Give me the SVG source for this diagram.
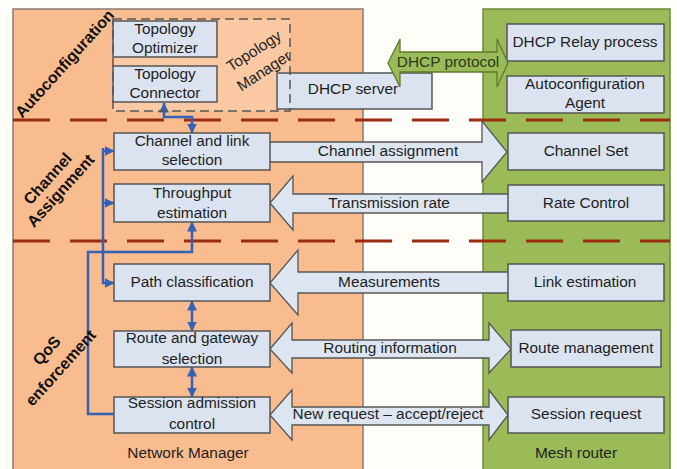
<svg xmlns="http://www.w3.org/2000/svg" width="677" height="469" viewBox="0 0 677 469">
  <defs>
    <marker id="tip" markerUnits="userSpaceOnUse" markerWidth="10" markerHeight="10" refX="9.5" refY="5" orient="auto-start-reverse">
      <path d="M0,0 L10,5 L0,10 z" fill="#3462b6"/>
    </marker>
    <style>
      .box { fill: #dce3f0; stroke: #555; stroke-width: 1.5; }
      .blk { fill: #dde5f1; stroke: #555; stroke-width: 1.3; stroke-linejoin: miter; }
      .t { font-family: "Liberation Sans", Arial, sans-serif; font-size: 15.4px; fill: #1e1e1e; text-anchor: middle; }
      .lab { font-family: "Liberation Sans", Arial, sans-serif; font-size: 16px; font-weight: bold; fill: #111; text-anchor: middle; }
      .wire { fill: none; stroke: #3462b6; stroke-width: 2.5; }
      .sep { stroke: #9c2c10; stroke-width: 3; stroke-dasharray: 37 20; }
    </style>
  </defs>

  <!-- page -->
  <rect x="0" y="0" width="677" height="469" fill="#fefdf8"/>

  <!-- the two sides: network manager (left) and mesh router (right) -->
  <rect id="network-manager-panel" x="13" y="9" width="350" height="470" fill="#f9bc8e" stroke="#8a7a6e" stroke-width="1.5"/>
  <rect id="mesh-router-panel" x="483" y="9" width="187" height="470" fill="#9bbb59" stroke="#6e8a3a" stroke-width="1.5"/>

  <!-- topology manager area -->
  <rect x="113" y="19" width="177" height="92" fill="#fbd2b2" opacity="0.6"/>

  <!-- layer separators -->
  <line class="sep" x1="13" y1="120" x2="670" y2="120"/>
  <line class="sep" x1="13" y1="241" x2="670" y2="241"/>

  <!-- block arrows between the two sides -->
  <g id="connectors">
    <g id="channel-assignment">
      <polygon class="blk" points="265,142 482,142 482,121 507,152 482,182 482,162 265,162"/>
      <text class="t" x="388" y="156">Channel assignment</text>
    </g>
    <g id="transmission-rate">
      <polygon class="blk" points="512,194 293,194 293,176 270,203 293,230 293,213 512,213"/>
      <text class="t" x="389" y="208">Transmission rate</text>
    </g>
    <g id="measurements">
      <polygon class="blk" points="512,272 298,272 298,250 270,283 298,315 298,293 512,293"/>
      <text class="t" x="389" y="287">Measurements</text>
    </g>
    <g id="routing-information">
      <polygon class="blk" points="270,349 292,323 292,340 489,340 489,323 511,349 489,373 489,358 292,358 292,373"/>
      <text class="t" x="390" y="353">Routing information</text>
    </g>
    <g id="new-request">
      <polygon class="blk" points="270,415 292,390 292,407 489,407 489,390 508,415 489,440 489,425 292,425 292,440"/>
      <text class="t" x="388" y="419">New request – accept/reject</text>
    </g>

    <!-- control flow inside the network manager -->
    <path class="wire" d="M164,103 V117 H192 V133" marker-start="url(#tip)" marker-end="url(#tip)"/>
    <path class="wire" d="M103,148 V283 H114" marker-end="url(#tip)"/>
    <path class="wire" d="M103,151 H114" marker-end="url(#tip)"/>
    <path class="wire" d="M103,203 H114" marker-end="url(#tip)"/>
    <path class="wire" d="M115,414 H88 V252 H192 V222" marker-end="url(#tip)"/>
    <path class="wire" d="M192,301 V331" marker-start="url(#tip)" marker-end="url(#tip)"/>
    <path class="wire" d="M192,367 V397" marker-start="url(#tip)" marker-end="url(#tip)"/>
  </g>

  <!-- network manager functions -->
  <g id="topology-optimizer">
    <rect class="box" x="113" y="21" width="104" height="36"/>
    <text class="t" x="165" y="34">Topology</text>
    <text class="t" x="165" y="53">Optimizer</text>
  </g>
  <g id="topology-connector">
    <rect class="box" x="113" y="66" width="104" height="36"/>
    <text class="t" x="165" y="79">Topology</text>
    <text class="t" x="165" y="98">Connector</text>
  </g>
  <g id="dhcp-server">
    <rect class="box" x="277" y="73" width="155" height="36"/>
    <text class="t" x="353" y="94">DHCP server</text>
  </g>
  <g id="channel-link-selection">
    <rect class="box" x="114" y="133" width="156" height="37"/>
    <text class="t" x="192" y="146">Channel and link</text>
    <text class="t" x="192" y="165">selection</text>
  </g>
  <g id="throughput-estimation">
    <rect class="box" x="114" y="184" width="156" height="38"/>
    <text class="t" x="192" y="198">Throughput</text>
    <text class="t" x="192" y="218">estimation</text>
  </g>
  <g id="path-classification">
    <rect class="box" x="114" y="264" width="156" height="37"/>
    <text class="t" x="192" y="287">Path classification</text>
  </g>
  <g id="route-gateway-selection">
    <rect class="box" x="114" y="331" width="156" height="36"/>
    <text class="t" x="192" y="343">Route and gateway</text>
    <text class="t" x="192" y="364">selection</text>
  </g>
  <g id="session-admission-control">
    <rect class="box" x="114" y="397" width="156" height="36"/>
    <text class="t" x="192" y="408">Session admission</text>
    <text class="t" x="192" y="429">control</text>
  </g>

  <!-- topology manager outline -->
  <g id="topology-manager">
    <rect x="113" y="19" width="177" height="92" fill="none" stroke="#555" stroke-width="1.5" stroke-dasharray="9 5"/>
    <text class="t" transform="translate(254,51) rotate(-33)" x="0" y="5">Topology</text>
    <text class="t" transform="translate(264,71) rotate(-33)" x="0" y="5">Manager</text>
  </g>

  <!-- mesh router functions -->
  <g id="dhcp-relay-process">
    <rect class="box" x="507" y="24" width="157" height="37"/>
    <text class="t" x="585" y="47">DHCP Relay process</text>
  </g>
  <g id="autoconfiguration-agent">
    <rect class="box" x="507" y="76" width="157" height="37"/>
    <text class="t" x="585" y="89">Autoconfiguration</text>
    <text class="t" x="585" y="108">Agent</text>
  </g>
  <g id="channel-set">
    <rect class="box" x="508" y="133" width="156" height="37"/>
    <text class="t" x="586" y="156">Channel Set</text>
  </g>
  <g id="rate-control">
    <rect class="box" x="508" y="185" width="156" height="36"/>
    <text class="t" x="586" y="208">Rate Control</text>
  </g>
  <g id="link-estimation">
    <rect class="box" x="508" y="264" width="156" height="37"/>
    <text class="t" x="585" y="287">Link estimation</text>
  </g>
  <g id="route-management">
    <rect class="box" x="511" y="330" width="150" height="37"/>
    <text class="t" x="586" y="353">Route management</text>
  </g>
  <g id="session-request">
    <rect class="box" x="508" y="397" width="156" height="36"/>
    <text class="t" x="586" y="419">Session request</text>
  </g>

  <!-- DHCP protocol exchange, drawn over the server box -->
  <g id="dhcp-protocol">
    <polygon points="388,63 400,39 400,52 497,52 497,39 508,63 497,87 497,72 400,72 400,87" fill="#9bbb59" stroke="#5e7a2a" stroke-width="1.3"/>
    <text class="t" x="448" y="67" style="fill:#2b3a18">DHCP protocol</text>
  </g>

  <!-- layer names -->
  <g id="layer-labels">
    <text class="lab" transform="translate(65,64) rotate(-48)" x="0" y="5">Autoconfiguration</text>
    <text class="lab" transform="translate(48,179) rotate(-48)" x="0" y="5">Channel</text>
    <text class="lab" transform="translate(61,191) rotate(-48)" x="0" y="5">Assignment</text>
    <text class="lab" transform="translate(47,351) rotate(-48)" x="0" y="5">QoS</text>
    <text class="lab" transform="translate(61,368) rotate(-48)" x="0" y="5">enforcement</text>
  </g>

  <!-- side captions -->
  <text class="t" x="188" y="458">Network Manager</text>
  <text class="t" x="576" y="458">Mesh router</text>
</svg>
